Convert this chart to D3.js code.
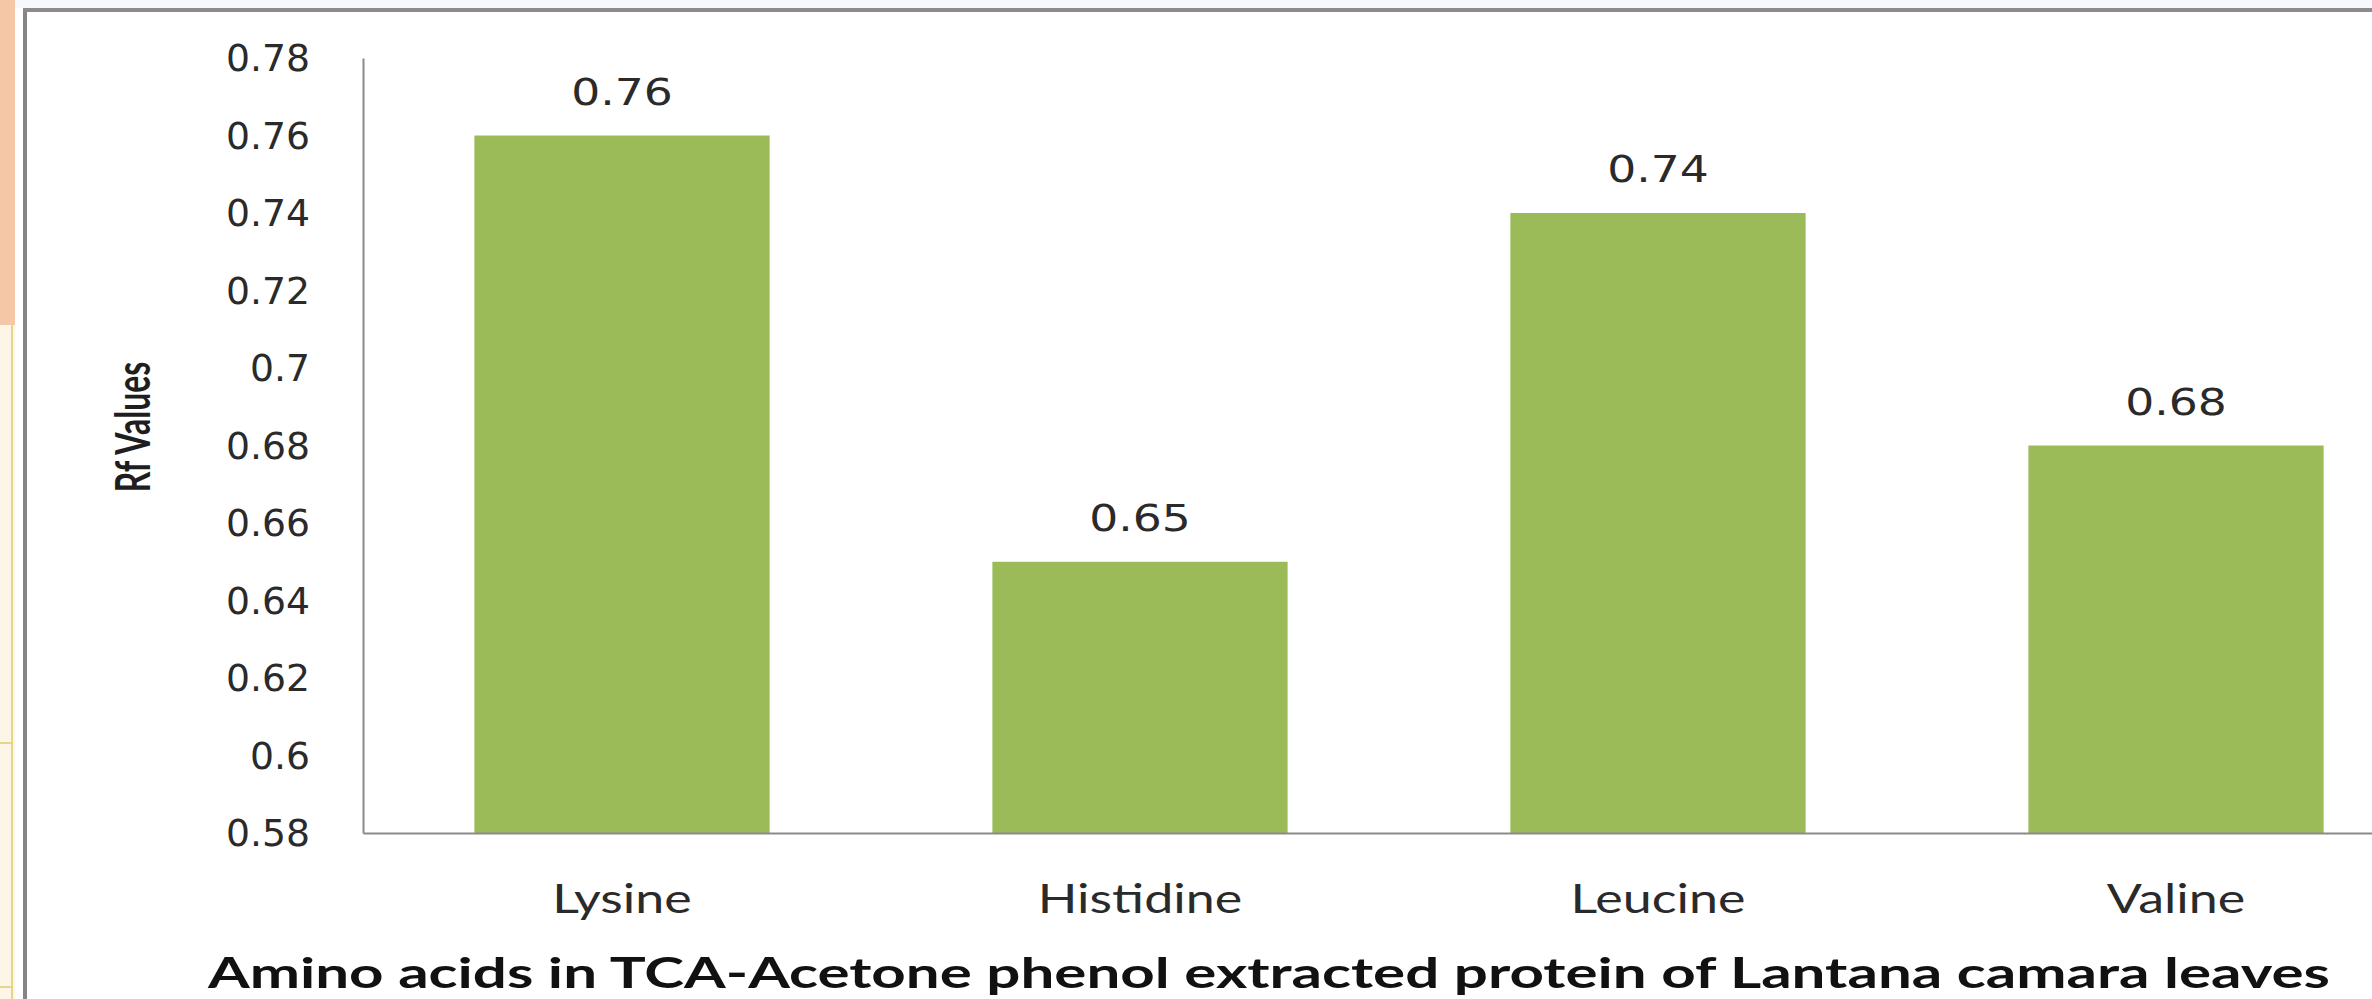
<!DOCTYPE html>
<html>
<head>
<meta charset="utf-8">
<script src="https://cdn.jsdelivr.net/npm/d3@7"></script>
<style>
  html, body { margin: 0; padding: 0; background: #ffffff; overflow: hidden; }
  svg { display: block; }
</style>
</head>
<body>
<script>
// Rf values of amino acids separated from TCA-acetone phenol extracted protein
const categories = ["Lysine", "Histidine", "Leucine", "Valine"];
const rfValues = [0.76, 0.65, 0.74, 0.68];
const yTickValues = [0.58, 0.60, 0.62, 0.64, 0.66, 0.68, 0.70, 0.72, 0.74, 0.76, 0.78];
const yDomain = [0.58, 0.78];
const yAxisTitle = "Rf Values";
const xAxisTitle = "Amino acids in TCA-Acetone phenol extracted protein of Lantana camara leaves";

const W = 2372, H = 999;
const plot = { left: 363, top: 58, bottom: 833, step: 518 };
const barColor = "#9bbb59";
const textColor = "#1e1e1e";

const svg = d3.select("body").append("svg").attr("width", W).attr("height", H);

// page backdrop and frame
svg.append("rect").attr("x", 0).attr("y", 0).attr("width", W).attr("height", H).attr("fill", "#ffffff");
svg.append("rect").attr("x", 0).attr("y", 0).attr("width", W).attr("height", 8).attr("fill", "#f7f8fc");
svg.append("rect").attr("x", 0).attr("y", 0).attr("width", 15).attr("height", H).attr("fill", "#fdf6e6");
svg.append("rect").attr("x", 0).attr("y", 0).attr("width", 15).attr("height", 325).attr("fill", "#f5c7a6");
svg.append("line").attr("x1", 12).attr("x2", 12).attr("y1", 325).attr("y2", H)
  .attr("stroke", "#e6d68c").attr("stroke-width", 2);
[743, 987].forEach(yy => {
  svg.append("line").attr("x1", 0).attr("x2", 12).attr("y1", yy).attr("y2", yy)
    .attr("stroke", "#e6d68c").attr("stroke-width", 2);
});
svg.append("line").attr("x1", 25).attr("x2", 25).attr("y1", 9).attr("y2", H)
  .attr("stroke", "#858585").attr("stroke-width", 4);
svg.append("line").attr("x1", 23).attr("x2", W).attr("y1", 10).attr("y2", 10)
  .attr("stroke", "#8e8a8a").attr("stroke-width", 4);

// scales
const x = d3.scaleBand()
  .domain(categories)
  .range([plot.left, plot.left + categories.length * plot.step])
  .paddingInner(0.43)
  .paddingOuter(0.215);

const y = d3.scaleLinear().domain(yDomain).range([plot.bottom, plot.top]);

const numFmt = d => String(+d.toFixed(2));

// horizontally widened text helper
function wideText(g, tx, ty, str, sx, anchor) {
  return g.append("text")
    .attr("transform", `translate(${tx},${ty}) scale(${sx},1)`)
    .attr("text-anchor", anchor)
    .text(str);
}

// bars
svg.append("g").selectAll("rect")
  .data(categories.map((c, i) => ({ c, v: rfValues[i] })))
  .join("rect")
  .attr("x", d => x(d.c))
  .attr("y", d => y(d.v))
  .attr("width", x.bandwidth())
  .attr("height", d => y(yDomain[0]) - y(d.v))
  .attr("fill", barColor);

// y axis (line only, labels drawn widened)
const yAxisG = svg.append("g").attr("transform", `translate(${plot.left},0)`)
  .call(d3.axisLeft(y).tickValues(yTickValues).tickSize(0).tickFormat(""));
yAxisG.select(".domain").attr("stroke", "#8a8a8a").attr("stroke-width", 2);

const tickG = svg.append("g")
  .attr("font-family", "'DejaVu Sans', Verdana, sans-serif")
  .attr("font-size", 37).attr("fill", "#2a2a2a");
yTickValues.forEach(t => wideText(tickG, plot.left - 53, y(t) + 13, numFmt(t), 1.02, "end"));

// x axis
const xAxisG = svg.append("g").attr("transform", `translate(0,${plot.bottom})`)
  .call(d3.axisBottom(x).tickSize(0).tickFormat(""));
xAxisG.select(".domain").attr("stroke", "#8a8a8a").attr("stroke-width", 2);

const catG = svg.append("g")
  .attr("font-family", "Lato, 'Open Sans', sans-serif")
  .attr("font-size", 40).attr("fill", "#2a2a2a");
categories.forEach(c => wideText(catG, x(c) + x.bandwidth() / 2, 913, c, 1.3, "middle"));

// value labels
const valG = svg.append("g")
  .attr("font-family", "'DejaVu Sans', Verdana, sans-serif")
  .attr("font-size", 38).attr("fill", "#2a2a2a");
categories.forEach((c, i) =>
  wideText(valG, x(c) + x.bandwidth() / 2, y(rfValues[i]) - 31, numFmt(rfValues[i]), 1.2, "middle"));

// axis titles
svg.append("text")
  .attr("transform", `translate(150,427) rotate(-90) scale(1,1.5)`)
  .attr("text-anchor", "middle")
  .attr("font-family", "Lato, 'Open Sans', sans-serif")
  .attr("font-weight", "bold").attr("font-size", 32).attr("fill", textColor)
  .text(yAxisTitle);

const titleG = svg.append("g")
  .attr("font-family", "Lato, 'Open Sans', sans-serif")
  .attr("font-weight", "bold").attr("font-size", 42).attr("fill", "#111");
wideText(titleG, 1269, 988, xAxisTitle, 1.43, "middle");
</script>
</body>
</html>
